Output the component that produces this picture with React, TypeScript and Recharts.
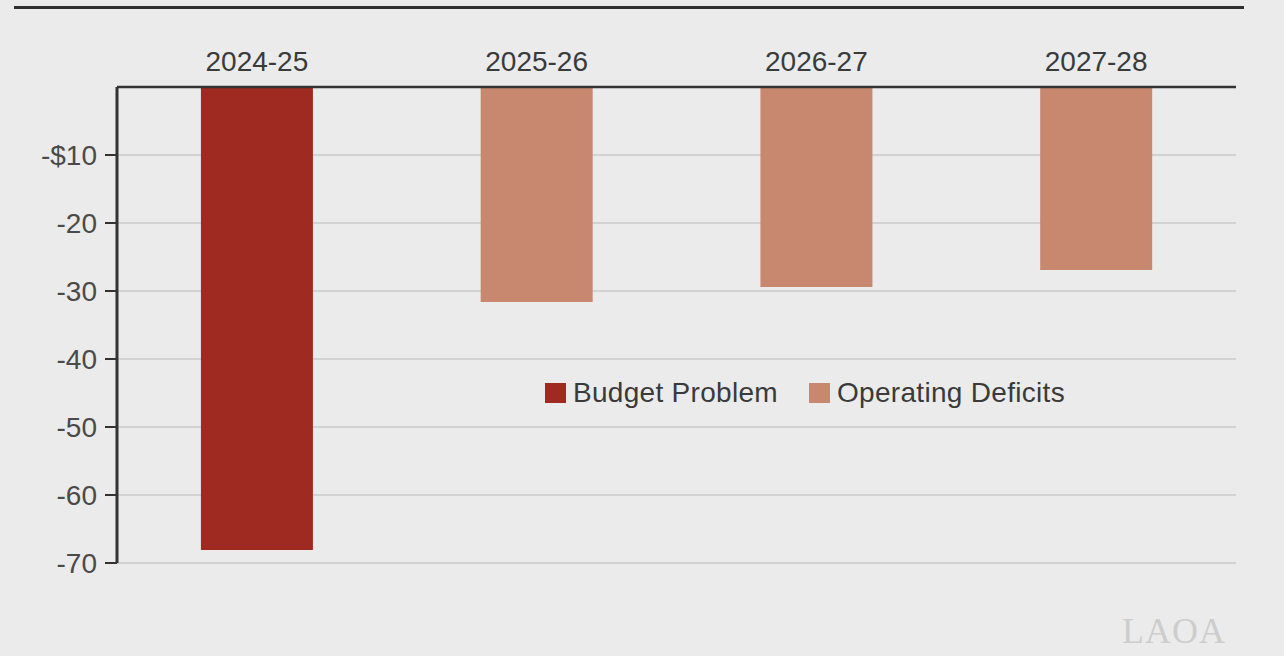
import { BarChart, Bar, XAxis, YAxis, CartesianGrid, Legend } from 'recharts'

const years = ['2024-25', '2025-26', '2026-27', '2027-28']
const budgetProblem = [-68.1, null, null, null]
const operatingDeficits = [null, -31.6, -29.4, -26.9]
const yTicks = [-70, -60, -50, -40, -30, -20, -10]

const RED = '#9e2a22'
const SALMON = '#c8876f'
const FONT = '"Liberation Sans", Arial, Helvetica, sans-serif'

const data = years.map((year, i) => ({
  year,
  budget: budgetProblem[i],
  deficits: operatingDeficits[i],
}))

function fmtTick(v: number): string {
  if (v === -10) return '-$10'
  return String(v)
}

function LegendBox() {
  const item = (color: string, label: string) => (
    <div style={{ display: 'flex', alignItems: 'center', marginRight: 31 }}>
      <span style={{ width: 21, height: 20, background: color, display: 'inline-block', marginRight: 7 }} />
      <span style={{ fontSize: 28, color: '#3a3a3a', fontFamily: FONT, lineHeight: '28px', letterSpacing: 0.3 }}>{label}</span>
    </div>
  )
  return (
    <div style={{ display: 'flex', alignItems: 'center' }}>
      {item(RED, 'Budget Problem')}
      {item(SALMON, 'Operating Deficits')}
    </div>
  )
}

export default function App() {
  return (
    <div
      style={{
        position: 'absolute',
        left: 0,
        top: 0,
        width: 1284,
        height: 656,
        background: '#ebebeb',
        fontFamily: FONT,
      }}
    >
      <div style={{ position: 'absolute', left: 14, top: 6, width: 1230, height: 3, background: '#2f2f2f' }} />
      <BarChart
        width={1284}
        height={656}
        data={data}
        margin={{ top: 47, right: 48, bottom: 65, left: 17 }}
        barCategoryGap="30%"
      >
        <CartesianGrid horizontal vertical={false} stroke="#d2d2d2" strokeWidth={2} />
        <XAxis
          dataKey="year"
          orientation="top"
          height={40}
          axisLine={{ stroke: '#333', strokeWidth: 2.5 }}
          tickLine={false}
          tickSize={0}
          tickMargin={16}
          tick={{ fontSize: 28, fill: '#3a3a3a', fontFamily: FONT }}
        />
        <YAxis
          domain={[-70, 0]}
          ticks={yTicks}
          tickFormatter={fmtTick}
          width={100}
          axisLine={{ stroke: '#333', strokeWidth: 3 }}
          tickLine={{ stroke: '#333', strokeWidth: 2 }}
          tickSize={12}
          tickMargin={8}
          tick={{ fontSize: 28, fill: '#4a4a4a', fontFamily: FONT }}
        />
        <Legend
          content={() => <LegendBox />}
          wrapperStyle={{ position: 'absolute', left: 545, top: 379, width: 'auto' }}
        />
        <Bar dataKey="budget" name="Budget Problem" stackId="a" fill={RED} isAnimationActive={false} />
        <Bar dataKey="deficits" name="Operating Deficits" stackId="a" fill={SALMON} isAnimationActive={false} />
      </BarChart>
      <div
        style={{
          position: 'absolute',
          left: 1122,
          top: 610,
          fontFamily: '"Liberation Serif", "DejaVu Serif", serif',
          fontSize: 36,
          color: '#cdcdcd',
          letterSpacing: 1,
        }}
      >
        LAOA
      </div>
    </div>
  )
}
